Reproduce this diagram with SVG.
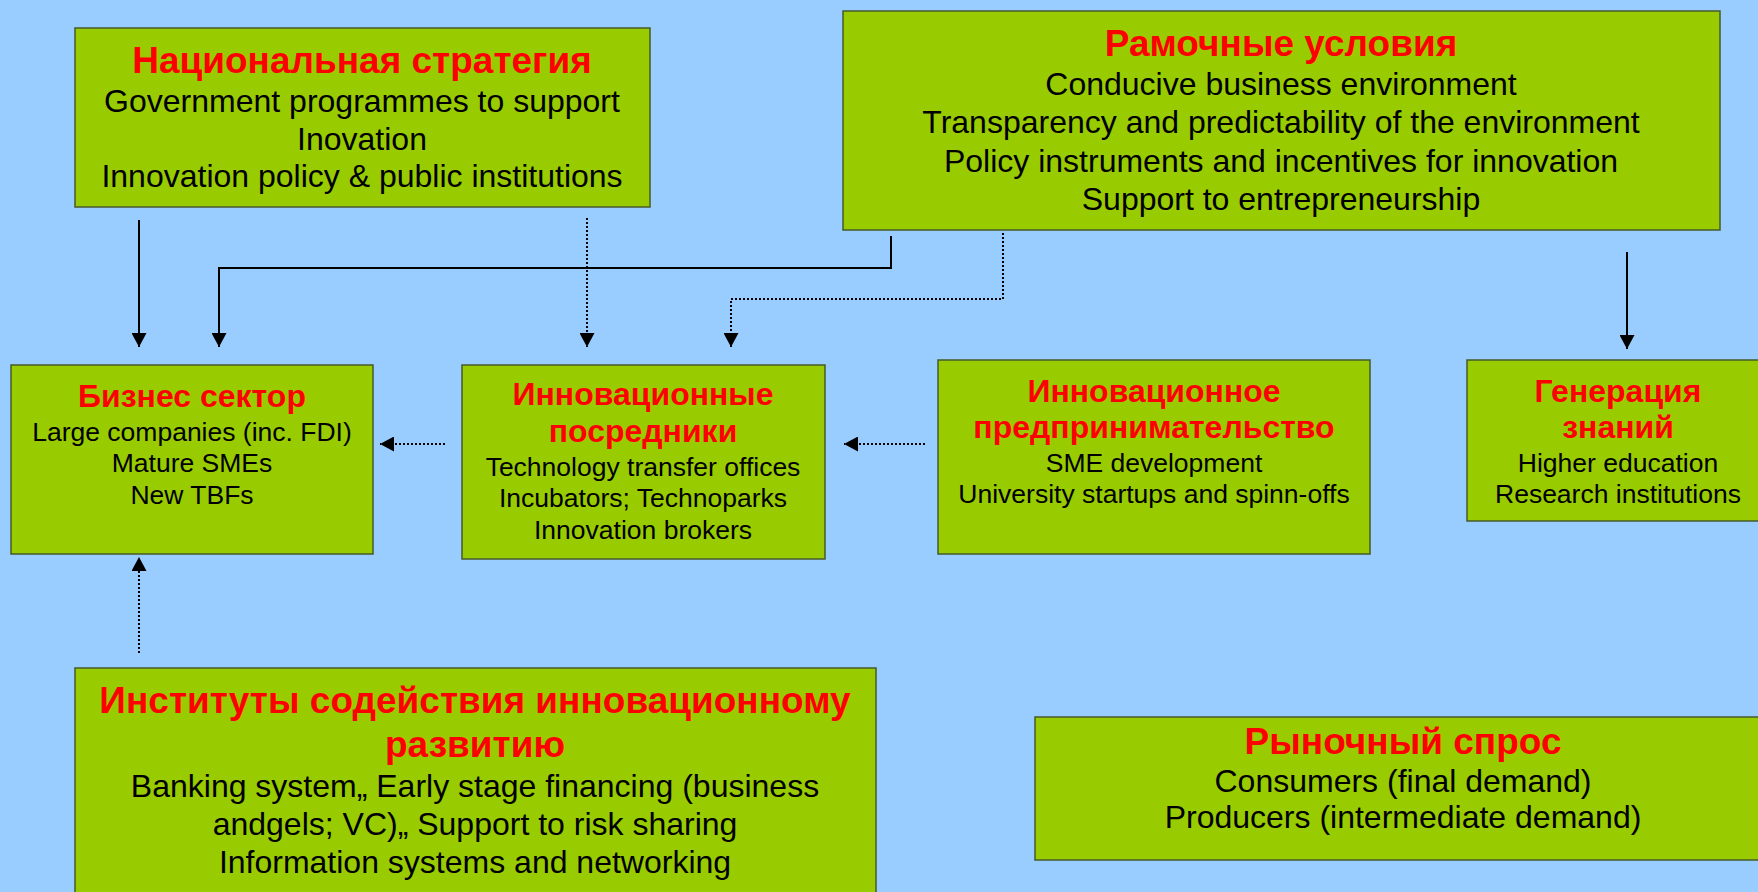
<svg xmlns="http://www.w3.org/2000/svg" width="1758" height="892" viewBox="0 0 1758 892">
<defs>
<style>
.box{fill:#99CC00;stroke:#465a28;stroke-width:1.5}
.t{font-family:"Liberation Sans",Arial,sans-serif;text-anchor:middle}
.ti{fill:#FF0000;font-weight:bold;font-size:37px}
.b{fill:#000;font-size:32px}
.ts{fill:#FF0000;font-weight:bold;font-size:32px}
.bs{fill:#000;font-size:26.5px}
.sol{fill:none;stroke:#000;stroke-width:2}
.dot{fill:none;stroke:#000;stroke-width:2;stroke-dasharray:2 2}
</style>
<marker id="ah" viewBox="0 0 14 15" refX="14" refY="7.5" markerWidth="14" markerHeight="15" markerUnits="userSpaceOnUse" orient="auto">
<path d="M0,0 L14,7.5 L0,15 Z" fill="#000"/>
</marker>
</defs>
<rect width="1758" height="892" fill="#99CCFF"/>

<g id="nat">
<rect class="box" x="75" y="28" width="575" height="179"/>
<text class="t ti" x="362" y="73">Национальная стратегия</text>
<text class="t b" x="362" y="112">Government programmes to support</text>
<text class="t b" x="362" y="150">Inovation</text>
<text class="t b" x="362" y="187">Innovation policy &amp; public institutions</text>
</g>

<g id="framework">
<rect class="box" x="843" y="11" width="877" height="219"/>
<text class="t ti" x="1281" y="56">Рамочные условия</text>
<text class="t b" x="1281" y="95">Conducive business environment</text>
<text class="t b" x="1281" y="133">Transparency and predictability of the environment</text>
<text class="t b" x="1281" y="172">Policy instruments and incentives for innovation</text>
<text class="t b" x="1281" y="210">Support to entrepreneurship</text>
</g>

<g id="business">
<rect class="box" x="11" y="365" width="362" height="189"/>
<text class="t ts" x="192" y="407">Бизнес сектор</text>
<text class="t bs" x="192" y="441">Large companies (inc. FDI)</text>
<text class="t bs" x="192" y="472">Mature SMEs</text>
<text class="t bs" x="192" y="504">New TBFs</text>
</g>

<g id="intermediaries">
<rect class="box" x="462" y="365" width="363" height="194"/>
<text class="t ts" x="643" y="405">Инновационные</text>
<text class="t ts" x="643" y="442">посредники</text>
<text class="t bs" x="643" y="476">Technology transfer offices</text>
<text class="t bs" x="643" y="507">Incubators; Technoparks</text>
<text class="t bs" x="643" y="539">Innovation brokers</text>
</g>

<g id="entrepreneurship">
<rect class="box" x="938" y="360" width="432" height="194"/>
<text class="t ts" x="1154" y="402">Инновационное</text>
<text class="t ts" x="1154" y="438">предпринимательство</text>
<text class="t bs" x="1154" y="472">SME development</text>
<text class="t bs" x="1154" y="503">University startups and spinn-offs</text>
</g>

<g id="knowledge">
<rect class="box" x="1467" y="360" width="303" height="161"/>
<text class="t ts" x="1618" y="402">Генерация</text>
<text class="t ts" x="1618" y="438">знаний</text>
<text class="t bs" x="1618" y="472">Higher education</text>
<text class="t bs" x="1618" y="503">Research institutions</text>
</g>

<g id="institutes">
<rect class="box" x="75" y="668" width="801" height="240"/>
<text class="t ti" x="475" y="713">Институты содействия инновационному</text>
<text class="t ti" x="475" y="757">развитию</text>
<text class="t b" x="475" y="797">Banking system„ Early stage financing (business</text>
<text class="t b" x="475" y="835">andgels; VC)„ Support to risk sharing</text>
<text class="t b" x="475" y="873">Information systems and networking</text>
</g>

<g id="market">
<rect class="box" x="1035" y="717" width="736" height="143"/>
<text class="t ti" x="1403" y="754">Рыночный спрос</text>
<text class="t b" x="1403" y="792">Consumers (final demand)</text>
<text class="t b" x="1403" y="828">Producers (intermediate demand)</text>
</g>

<g id="connectors">
<path class="sol" d="M139,220 V347" marker-end="url(#ah)"/>
<path class="sol" d="M891,236 V268 H219 V347" marker-end="url(#ah)"/>
<path class="dot" d="M587,218 V347" marker-end="url(#ah)"/>
<path class="dot" d="M1003,233 V299 H731 V347" marker-end="url(#ah)"/>
<path class="sol" d="M1627,252 V349" marker-end="url(#ah)"/>
<path class="dot" d="M445,444 H380" marker-end="url(#ah)"/>
<path class="dot" d="M925,444 H844" marker-end="url(#ah)"/>
<path class="dot" d="M139,653 V557" marker-end="url(#ah)"/>
</g>
</svg>
